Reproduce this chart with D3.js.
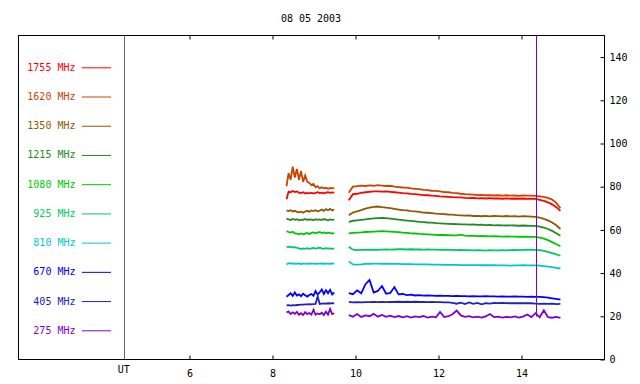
<!DOCTYPE html>
<html>
<head>
<meta charset="utf-8">
<script src="https://cdn.jsdelivr.net/npm/d3@7"></script>
<style>
    body { margin: 0; background: #fff; }
    svg { display: block; font-family: "DejaVu Sans Mono", monospace; }
</style>
</head>
<body>
<svg id="chart" width="640" height="384"></svg>
<script>
// date of the record
const title = "08 05 2003";

// legend labels (top to bottom) and their colours
const freqLabels = ["1755 MHz", "1620 MHz", "1350 MHz", "1215 MHz", "1080 MHz",
    "925 MHz", "810 MHz", "670 MHz", "405 MHz", "275 MHz"];
const freqColors = ["#ff0000", "#c84400", "#8c5a00", "#228b22", "#00c800",
    "#00c864", "#00c8c8", "#0000ff", "#2020c4", "#8000c8"];

// axis ticks
const hourTicks = [6, 8, 10, 12, 14];
const fluxTicks = [0, 20, 40, 60, 80, 100, 120, 140];

// UT label position and the marker line (hours / flux)
const utHour = 4.43;
const markerHour = 14.36;
const markerRange = [19.6, 150];

// sample times (UT hours) of the two observing blocks
const timesA = [8.35, 8.40, 8.45, 8.50, 8.55, 8.60, 8.65, 8.70, 8.75, 8.80, 8.85, 8.90,
    8.95, 9.00, 9.05, 9.10, 9.15, 9.20, 9.25, 9.30, 9.35, 9.40, 9.45, 9.50];
const timesB = [9.85, 9.95, 10.05, 10.15, 10.25, 10.35, 10.45, 10.55, 10.65, 10.75,
    10.85, 10.95, 11.05, 11.15, 11.25, 11.35, 11.45, 11.55, 11.65, 11.75, 11.85, 11.95,
    12.05, 12.15, 12.25, 12.35, 12.45, 12.55, 12.65, 12.75, 12.85, 12.95, 13.05, 13.15,
    13.25, 13.35, 13.45, 13.55, 13.65, 13.75, 13.85, 13.95, 14.05, 14.15, 14.25, 14.35,
    14.45, 14.55, 14.65, 14.75, 14.85, 14.95];

// flux per frequency, block A then block B
const f1755A = [74, 77.5, 77.2, 77.8, 77.3, 77.6, 77, 76.8, 77.2, 76.6, 76.9, 76.7, 77, 76.6, 76.9, 77.2, 76.8, 77, 76.7, 77, 77.2, 76.9, 77.1, 77];
const f1755B = [73.5, 76.3, 76.5, 76.9, 77.2, 77.4, 77.6, 77.6, 77.5, 77.6, 77.4, 77.2, 77, 76.8, 76.7, 76.4, 76.3, 76.1, 75.9, 75.8, 75.6, 75.5, 75.3, 75.2, 75.1, 74.9, 74.8, 74.8, 74.6, 74.5, 74.6, 74.4, 74.5, 74.3, 74.5, 74.3, 74.4, 74.2, 74.4, 74.2, 74.3, 74.2, 74.3, 74.1, 74.2, 74.1, 73.7, 73.2, 72.5, 71.6, 70.3, 68.6];

const f1620A = [80, 86, 83, 89, 84, 88, 83, 87, 82, 85, 82, 81.5, 80.5, 81, 79.5, 80, 79, 79.5, 79, 79.3, 78.8, 79.2, 79, 79.2];
const f1620B = [77, 79.8, 80, 80.3, 80.1, 80.4, 80.2, 80.5, 80.3, 80.1, 80.2, 79.8, 79.6, 79.4, 79.3, 79, 78.8, 78.6, 78.3, 78.2, 77.9, 77.8, 77.6, 77.3, 77.2, 76.9, 76.8, 76.5, 76.3, 76.2, 76.1, 75.9, 76, 75.8, 75.9, 75.7, 75.8, 75.6, 75.8, 75.6, 75.7, 75.5, 75.7, 75.6, 75.6, 75.5, 75.3, 75.1, 74.6, 73.8, 72.3, 69.8];

const f1350A = [68.8, 68.5, 68.9, 68.3, 68.6, 68.1, 67.9, 68.2, 67.7, 68.3, 68.6, 68.2, 68.8, 68.5, 68.9, 68.4, 68.7, 69.2, 68.6, 69.4, 68.9, 69.5, 68.8, 69.2];
const f1350B = [66.5, 67.8, 68.4, 68.9, 69.6, 70.1, 70.4, 70.6, 70.3, 70.1, 69.8, 69.5, 69.2, 68.9, 68.8, 68.5, 68.3, 68.1, 67.8, 67.7, 67.5, 67.3, 67.2, 67.1, 66.9, 66.8, 66.6, 66.5, 66.4, 66.5, 66.2, 66.3, 66.1, 66.3, 66, 66.2, 66.1, 66, 66.2, 66, 66.1, 65.9, 66.1, 66, 65.9, 65.8, 65.4, 64.9, 64.2, 63.2, 61.9, 60.2];

const f1215A = [65, 64.6, 64.3, 64.8, 64.4, 64.7, 64.2, 64.5, 64.4, 64.8, 64.3, 64.6, 64.5, 64.2, 64.7, 64.4, 64.6, 64.3, 64.8, 64.5, 64.2, 64.6, 64.4, 64.5];
const f1215B = [63.5, 64, 64.2, 64.4, 64.6, 64.9, 65.1, 65.2, 65.3, 65.2, 65, 64.8, 64.5, 64.3, 64.1, 63.9, 63.7, 63.5, 63.4, 63.2, 63.1, 62.9, 62.8, 62.7, 62.6, 62.5, 62.4, 62.3, 62.3, 62.2, 62.3, 62.1, 62.2, 62, 62.1, 61.9, 62, 61.9, 61.8, 61.9, 61.8, 61.7, 61.8, 61.7, 61.6, 61.6, 61.3, 60.8, 60.2, 59.3, 58.2, 57.1];

const f1080A = [59.2, 58.8, 58.5, 58.9, 58.2, 58, 57.8, 58.1, 57.7, 58, 58.3, 57.9, 58.4, 58.6, 58.2, 58.5, 58.8, 58.3, 58.6, 58.2, 58.5, 58.4, 58.1, 58.3];
const f1080B = [58.2, 58.4, 58.5, 58.6, 58.8, 58.9, 59, 59.1, 59.2, 59.1, 59, 58.9, 58.7, 58.5, 58.4, 58.2, 58.1, 57.9, 57.8, 57.7, 57.6, 57.5, 57.4, 57.4, 57.3, 57.2, 57.2, 57.6, 57.1, 57, 57, 56.9, 57, 56.9, 56.8, 56.9, 56.8, 56.7, 56.8, 56.7, 56.7, 56.6, 56.7, 56.6, 56.5, 56.5, 56.2, 55.7, 55, 54.1, 53.1, 52.2];

const f925A = [52, 51.8, 52, 51.6, 51.8, 51.5, 51.2, 50.9, 51.2, 51, 51.3, 51, 51.2, 51.4, 51.1, 51.3, 51.5, 51.2, 51, 51.3, 51.1, 51.2, 51, 51.2];
const f925B = [52, 50.6, 50.4, 50.5, 50.6, 50.5, 50.6, 50.5, 50.6, 50.7, 50.6, 50.7, 50.8, 50.8, 50.7, 50.8, 50.7, 50.7, 50.6, 50.7, 50.6, 50.6, 50.5, 50.6, 50.5, 50.5, 50.4, 50.5, 50.4, 50.4, 50.3, 50.4, 50.3, 50.2, 50.4, 50.3, 50.3, 50.4, 50.3, 50.4, 50.5, 50.4, 50.5, 50.6, 50.5, 50.5, 50.4, 50.1, 49.6, 49, 48.4, 47.8];

const f810A = [43.8, 44.4, 44.2, 44.3, 44.1, 44.2, 44.3, 44, 44.2, 44.2, 44.1, 44.2, 44.3, 44.2, 44.1, 44.2, 44.2, 44.3, 44.1, 44.2, 44.2, 44.1, 44.3, 44.2];
const f810B = [45.2, 43.8, 43.7, 43.8, 44, 44.1, 44.2, 44.2, 44.1, 44.1, 44, 44, 44, 43.9, 43.9, 43.9, 43.8, 43.8, 43.8, 43.8, 43.7, 43.7, 43.7, 43.6, 43.6, 43.6, 43.6, 43.5, 43.5, 43.5, 43.5, 43.5, 43.4, 43.4, 43.4, 43.4, 43.3, 43.3, 43.3, 43.2, 43.3, 43.3, 43.4, 43.3, 43.3, 43.3, 43.2, 43, 42.8, 42.5, 42.2, 41.9];

const f670A = [28.8, 29.6, 30.4, 29.2, 30.8, 29.4, 29.9, 29.1, 30.2, 29.5, 28.9, 29.6, 30.1, 29.3, 31.5, 29.8, 30.9, 32.2, 30.1, 31.8, 30.4, 32, 29.9, 30.8];
const f670B = [30.5, 30, 31.8, 30.4, 34.5, 36.6, 30.8, 31.5, 33.8, 30.2, 30.6, 33.3, 29.9, 30.1, 29.6, 29.8, 29.4, 29.6, 29.3, 29.4, 29.3, 29.2, 29.3, 29.2, 29.2, 29.1, 29.2, 29.1, 29.1, 29, 29.1, 29, 29, 29.1, 29, 29, 28.9, 29, 28.9, 28.9, 29, 28.9, 28.9, 28.8, 28.9, 28.8, 28.8, 28.6, 28.4, 28.1, 27.8, 27.5];

const f405A = [24.8, 24.9, 24.7, 24.9, 24.8, 25, 25.1, 25.2, 25.2, 25.3, 25.3, 25.4, 25.3, 25.4, 25.5, 29, 25.5, 25.6, 25.7, 25.6, 25.8, 25.7, 25.9, 25.8];
const f405B = [26.4, 26.2, 26.3, 26.2, 26.3, 26.3, 26.4, 26.3, 26.4, 26.3, 26.4, 26.4, 26.5, 26.4, 26.5, 26.4, 26.5, 26.4, 26.4, 26.3, 26.4, 26.3, 26.3, 26.2, 26.2, 26, 25.6, 26.1, 25.4, 26.2, 25.5, 26, 25.3, 25.9, 25.6, 26, 25.9, 26, 25.9, 25.8, 25.9, 25.8, 25.8, 25.9, 25.8, 25.6, 25.5, 25.6, 25.5, 25.6, 25.4, 25.5];

const f275A = [21.5, 22, 20.8, 21.6, 20.9, 21.8, 20.5, 21.2, 20.4, 21.7, 20.8, 21.3, 20.6, 22.8, 20.5, 21.1, 20.7, 21.4, 20.4, 21.9, 20.6, 23.2, 20.8, 21.2];
const f275B = [20.3, 19.6, 20.8, 19.5, 20.2, 19.8, 20.9, 19.6, 20.4, 19.5, 20.1, 19.4, 19.9, 19.3, 19.8, 19.2, 19.7, 19.4, 19.9, 19.2, 19.6, 19.3, 21.8, 19.4, 19.8, 20.7, 22.4, 20.2, 19.5, 19.8, 19.3, 19.6, 19.2, 19.7, 20.8, 19.4, 19.6, 19.2, 19.5, 19.3, 19.7, 19.2, 19.6, 20.6, 19.4, 21.2, 19.3, 22.6, 19.4, 19.1, 19.5, 19.0];

const blockA = [f1755A, f1620A, f1350A, f1215A, f1080A, f925A, f810A, f670A, f405A, f275A];
const blockB = [f1755B, f1620B, f1350B, f1215B, f1080B, f925B, f810B, f670B, f405B, f275B];

// layout
const frame = {left: 18, right: 604, top: 35, bottom: 359};

const svg = d3.select("#chart");

const x = d3.scaleLinear().domain([1.88, 16]).range([frame.left, frame.right]);
const y = d3.scaleLinear().domain([0, 150]).range([frame.bottom, frame.top]);
const legendY = d3.scalePoint().domain(freqLabels).range([67.3, 330.3]);

// title
svg.append("text")
    .attr("x", (frame.left + frame.right) / 2)
    .attr("y", 22)
    .attr("text-anchor", "middle")
    .attr("font-size", 10)
    .attr("fill", "#000")
    .text(title);

// UT separator line
svg.append("line")
    .attr("x1", Math.round(x(utHour)) + 0.5)
    .attr("x2", Math.round(x(utHour)) + 0.5)
    .attr("y1", frame.top)
    .attr("y2", frame.bottom)
    .attr("stroke", "#666")
    .attr("stroke-width", 1);

svg.append("text")
    .attr("x", x(utHour))
    .attr("y", 373)
    .attr("text-anchor", "middle")
    .attr("font-size", 10)
    .attr("fill", "#000")
    .text("UT");

// legend
const legend = svg.append("g").selectAll("g")
    .data(freqLabels)
    .join("g")
    .attr("transform", d => `translate(0,${legendY(d)})`);

legend.append("text")
    .attr("x", 75.5)
    .attr("dy", "0.35em")
    .attr("text-anchor", "end")
    .attr("font-size", 10)
    .attr("fill", (d, i) => freqColors[i])
    .text(d => d);

legend.append("line")
    .attr("x1", 82)
    .attr("x2", 111)
    .attr("y1", 0.5)
    .attr("y2", 0.5)
    .attr("stroke", (d, i) => freqColors[i])
    .attr("stroke-width", 1);

// traces
const line = d3.line()
    .x(d => x(d[0]))
    .y(d => y(d[1]));

function drawBlock(times, block) {
    svg.append("g")
        .selectAll("path")
        .data(block)
        .join("path")
        .attr("d", vals => line(vals.map((v, j) => [times[j], v])))
        .attr("fill", "none")
        .attr("stroke", (d, i) => freqColors[i])
        .attr("stroke-width", 1.8)
        .attr("stroke-linejoin", "miter");
}
drawBlock(timesA, blockA);
drawBlock(timesB, blockB);

// event marker
svg.append("line")
    .attr("x1", Math.round(x(markerHour)) + 0.5)
    .attr("x2", Math.round(x(markerHour)) + 0.5)
    .attr("y1", y(markerRange[1]))
    .attr("y2", y(markerRange[0]))
    .attr("stroke", "#8000c8")
    .attr("stroke-width", 1);

// frame
svg.append("rect")
    .attr("x", frame.left + 0.5)
    .attr("y", frame.top + 0.5)
    .attr("width", frame.right - frame.left)
    .attr("height", frame.bottom - frame.top)
    .attr("fill", "none")
    .attr("stroke", "#000")
    .attr("stroke-width", 1)
    .attr("shape-rendering", "crispEdges");

// bottom axis
const bottomAxis = svg.append("g")
    .attr("transform", `translate(0.5,${frame.bottom + 0.5})`)
    .call(d3.axisBottom(x).tickValues(hourTicks).tickSize(-4).tickPadding(10));

// top ticks
const topAxis = svg.append("g")
    .attr("transform", `translate(0.5,${frame.top + 0.5})`)
    .call(d3.axisTop(x).tickValues(hourTicks).tickSize(-4).tickFormat(""));

// right axis
const rightAxis = svg.append("g")
    .attr("transform", `translate(${frame.right + 0.5},0.5)`)
    .call(d3.axisRight(y).tickValues(fluxTicks).tickSize(-4).tickPadding(5));

for (const ax of [bottomAxis, topAxis, rightAxis]) {
    ax.select(".domain").remove();
    ax.attr("font-family", "DejaVu Sans Mono, monospace").attr("font-size", 10);
    ax.selectAll("line").attr("stroke", "#000");
    ax.selectAll("text").attr("fill", "#000");
}
</script>
</body>
</html>
